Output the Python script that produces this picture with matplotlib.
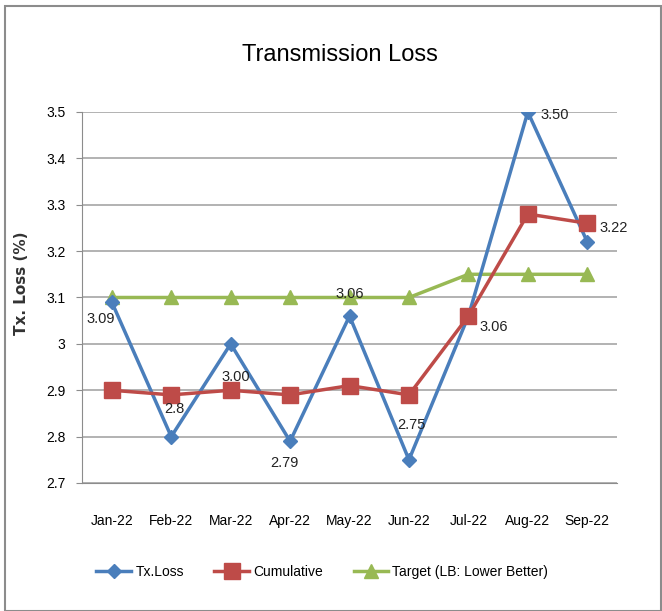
import matplotlib
matplotlib.use('Agg')
import matplotlib.pyplot as plt
from matplotlib.patches import Rectangle

plt.rcParams['font.family'] = ['Liberation Sans', 'DejaVu Sans']

months = ['Jan-22', 'Feb-22', 'Mar-22', 'Apr-22', 'May-22', 'Jun-22', 'Jul-22', 'Aug-22', 'Sep-22']
tx_loss = [3.09, 2.80, 3.00, 2.79, 3.06, 2.75, 3.06, 3.50, 3.22]
cumulative = [2.90, 2.89, 2.90, 2.89, 2.91, 2.89, 3.06, 3.28, 3.26]
target = [3.10, 3.10, 3.10, 3.10, 3.10, 3.10, 3.15, 3.15, 3.15]
labels = ['3.09', '2.8', '3.00', '2.79', '3.06', '2.75', '3.06', '3.50', '3.22']
yticks = [2.7, 2.8, 2.9, 3.0, 3.1, 3.2, 3.3, 3.4, 3.5]
ytick_labels = ['2.7', '2.8', '2.9', '3', '3.1', '3.2', '3.3', '3.4', '3.5']

fig = plt.figure(figsize=(6.62, 6.11), dpi=100)
fig.patches.append(Rectangle((0.008, 0.0), 0.99, 0.99, transform=fig.transFigure,
                             fill=False, edgecolor='#8c8c8c', linewidth=1.5))
ax = fig.add_axes([0.124, 0.2095, 0.808, 0.6072])

x = list(range(len(months)))
ax.plot(x, tx_loss, color='#4a7ebb', lw=2.5, marker='D', ms=7, label='Tx.Loss', zorder=3)
ax.plot(x, cumulative, color='#be4b48', lw=2.5, marker='s', ms=11, label='Cumulative', zorder=4)
ax.plot(x, target, color='#98b954', lw=2.5, marker='^', ms=10, label='Target (LB: Lower Better)', zorder=2)

# data label offsets in points (dx, dy), placed like the original chart
offsets = [(-8, -12), (2, 20), (4, -24), (-4, -16), (0, 16), (2, 25), (18, -8), (19, -2), (19, 10)]
for i, (lab, off) in enumerate(zip(labels, offsets)):
    ax.annotate(lab, (x[i], tx_loss[i]), xytext=off, textcoords='offset points',
                ha='center', va='center', fontsize=10.5, color='#222222', zorder=6)

ax.set_xlim(-0.5, len(months) - 0.5)
ax.set_ylim(2.7, 3.5)
ax.set_yticks(yticks)
ax.set_yticklabels(ytick_labels, fontsize=10)
ax.set_xticks(x)
ax.set_xticklabels(months, fontsize=10)
ax.tick_params(axis='x', length=0, pad=22)
ax.tick_params(axis='y', length=4, color='#8c8c8c', pad=8)
ax.grid(axis='y', color='#a6a6a6', lw=1.2)
ax.set_axisbelow(True)
for s in ['top', 'right']:
    ax.spines[s].set_visible(False)
for s in ['left', 'bottom']:
    ax.spines[s].set_color('#8c8c8c')

fig.text(0.032, 0.537, 'Tx. Loss (%)', rotation=90, ha='center', va='center',
         fontsize=11, fontweight='bold', family='DejaVu Sans', color='#333333')
fig.text(0.513, 0.91, 'Transmission Loss', ha='center', va='center', fontsize=17)

fig.legend(loc='center', bbox_to_anchor=(0.487, 0.064), ncol=3, frameon=False,
           fontsize=10, handlelength=2.5, handletextpad=0.3, columnspacing=2.2)

fig.savefig('out.png', dpi=100)
